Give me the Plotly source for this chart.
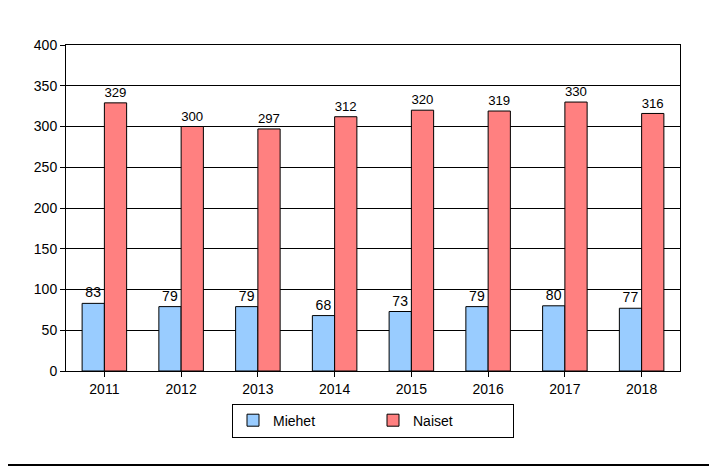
import plotly.graph_objects as go

years = ['2011', '2012', '2013', '2014', '2015', '2016', '2017', '2018']
miehet = [83, 79, 79, 68, 73, 79, 80, 77]
naiset = [329, 300, 297, 312, 320, 319, 330, 316]

fig = go.Figure()
fig.add_trace(go.Bar(x=years, y=miehet, name='Miehet', marker_color='#99CCFF',
                     marker_line=dict(color='black', width=1),
                     text=miehet, textposition='outside', cliponaxis=False))
fig.add_trace(go.Bar(x=years, y=naiset, name='Naiset', marker_color='#FF8080',
                     marker_line=dict(color='black', width=1),
                     text=naiset, textposition='outside', cliponaxis=False))

fig.update_layout(
    width=717, height=467, barmode='group', bargap=0.42, bargroupgap=0,
    paper_bgcolor='white', plot_bgcolor='white',
    font=dict(family='Liberation Sans, Arial', size=14, color='black'),
    margin=dict(l=58, r=45, t=37, b=104),
    legend=dict(orientation='h', x=0.5, xanchor='center', y=-0.10, yanchor='top',
                bordercolor='black', borderwidth=1, font=dict(size=14),
                entrywidth=95),
    showlegend=True,
    shapes=[dict(type='rect', xref='paper', yref='paper', x0=-0.106, x1=1.057, y0=-0.288, y1=1.135,
                 line=dict(color='black', width=2))],
)
fig.update_xaxes(showline=True, linecolor='black', mirror=True, ticks='outside',
                 ticklen=5, tickcolor='black')
fig.update_yaxes(range=[0, 400], dtick=50, showgrid=True, gridcolor='black', gridwidth=1,
                 showline=True, linecolor='black', mirror=True, ticks='outside',
                 ticklen=5, tickcolor='black', zeroline=False)

fig.write_html('out.html')
